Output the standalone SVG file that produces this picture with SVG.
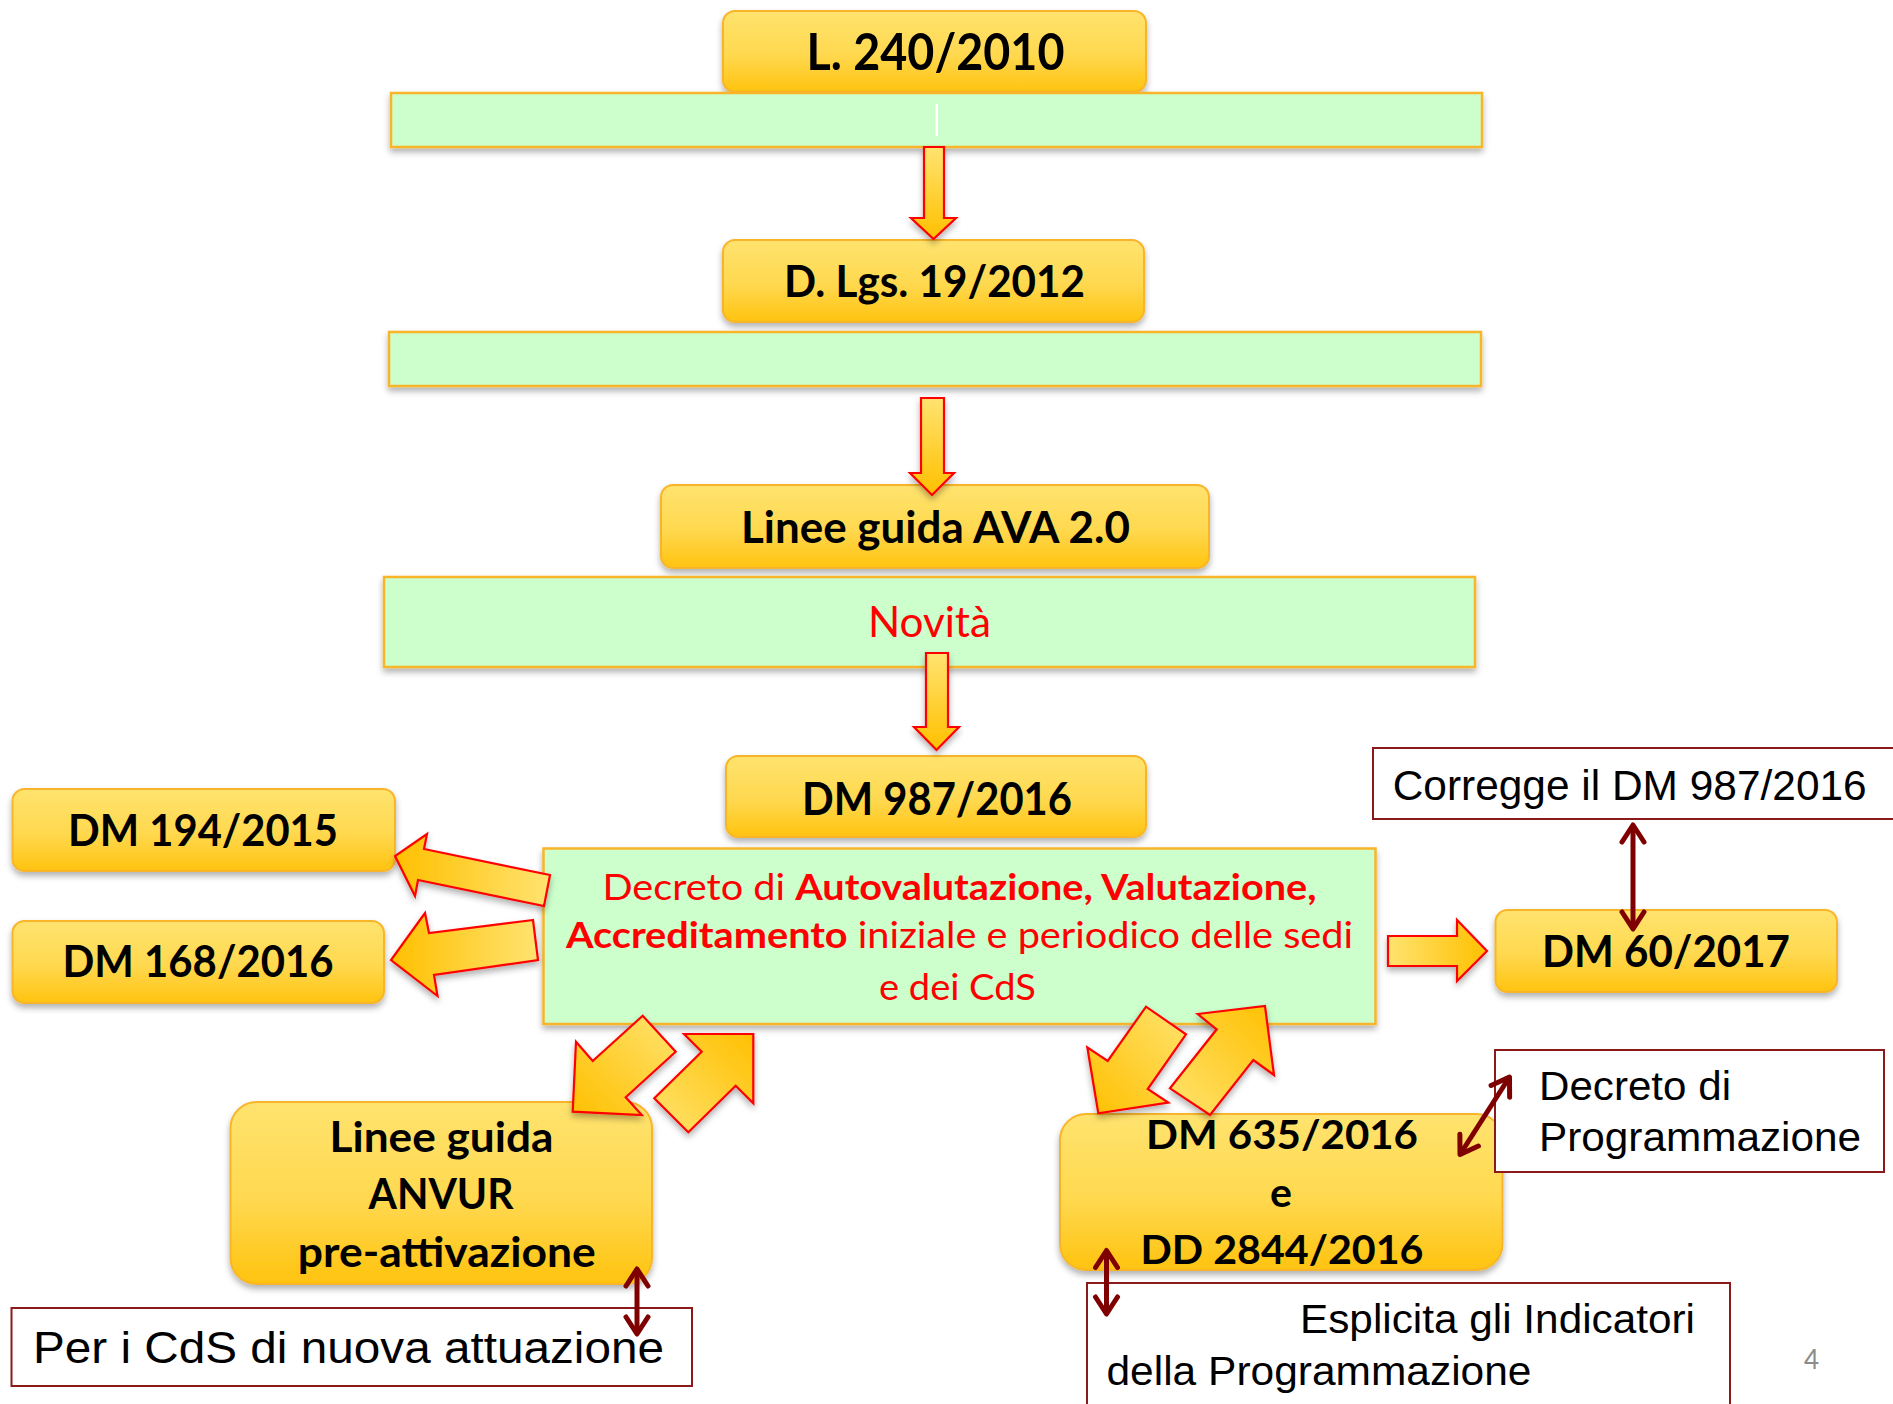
<svg xmlns="http://www.w3.org/2000/svg" width="1893" height="1404" viewBox="0 0 1893 1404">
<defs>
<linearGradient id="gBox" x1="0" y1="0" x2="0" y2="1">
<stop offset="0" stop-color="#FFE36F"/><stop offset="0.55" stop-color="#FFD84E"/><stop offset="1" stop-color="#FFC30F"/>
</linearGradient>
<linearGradient id="gDown" x1="0" y1="0" x2="0" y2="1"><stop offset="0" stop-color="#FFE370"/><stop offset="1" stop-color="#FFC000"/></linearGradient>
<linearGradient id="gLeft" x1="1" y1="0" x2="0" y2="0"><stop offset="0" stop-color="#FFE370"/><stop offset="1" stop-color="#FFC000"/></linearGradient>
<linearGradient id="gRight" x1="0" y1="0" x2="1" y2="0"><stop offset="0" stop-color="#FFE370"/><stop offset="1" stop-color="#FFC000"/></linearGradient>
<linearGradient id="gDL" x1="1" y1="0" x2="0" y2="1"><stop offset="0" stop-color="#FFE370"/><stop offset="1" stop-color="#FFC000"/></linearGradient>
<linearGradient id="gUR" x1="0" y1="1" x2="1" y2="0"><stop offset="0" stop-color="#FFE370"/><stop offset="1" stop-color="#FFC000"/></linearGradient>
<filter id="sh" x="-10%" y="-20%" width="120%" height="150%">
<feDropShadow dx="0" dy="4" stdDeviation="3" flood-color="#000" flood-opacity="0.3"/>
</filter>
<marker id="dh" viewBox="-22 -14 28 28" refX="0" refY="0" markerWidth="28" markerHeight="28" markerUnits="userSpaceOnUse" orient="auto-start-reverse" overflow="visible">
<path d="M-17,-11 L0,0 L-17,11" fill="none" stroke="#7F0000" stroke-width="5" stroke-linecap="round" stroke-linejoin="round"/>
</marker>
</defs>
<style>
.box{stroke:#F8B52A;stroke-width:2;filter:url(#sh);fill:url(#gBox)}
.band{fill:#CCFFCC;stroke:#F8B52A;stroke-width:2.5;filter:url(#sh)}
.note{fill:#FFFFFF;stroke:#8B1A1A;stroke-width:2}
.arr{stroke:#FF0000;stroke-width:2.2;stroke-linejoin:miter;filter:url(#sh)}
.t{font-family:Lato,"Liberation Sans",sans-serif;font-weight:bold;fill:#000;text-anchor:middle}
.r{font-family:Lato,"Liberation Sans",sans-serif;fill:#FF0000}
.a{font-family:"Liberation Sans",Arial,sans-serif;fill:#000}
.dbl{stroke:#7F0000;stroke-width:5;fill:none;marker-start:url(#dh);marker-end:url(#dh)}
</style>

<g id="n-l240">
<rect class="box" x="723" y="11" width="423" height="81" rx="12"/>
<text class="t" x="935.5" y="70" font-size="51" textLength="258" lengthAdjust="spacingAndGlyphs">L. 240/2010</text>
</g>
<g id="band1">
<rect class="band" x="391" y="93" width="1091" height="54"/>
<rect x="935.5" y="104" width="2.5" height="32" fill="#FFFFFF"/>
</g>
<g id="n-dlgs">
<rect class="box" x="723" y="240" width="421" height="82" rx="12"/>
<text class="t" x="934.5" y="297" font-size="44" textLength="301" lengthAdjust="spacingAndGlyphs">D. Lgs. 19/2012</text>
</g>
<g id="band2">
<rect class="band" x="389" y="332" width="1092" height="54"/>
</g>
<g id="n-ava">
<rect class="box" x="661" y="485" width="548" height="83" rx="12"/>
<text class="t" x="935.5" y="543" font-size="44" textLength="389" lengthAdjust="spacingAndGlyphs">Linee guida AVA 2.0</text>
</g>
<g id="band3">
<rect class="band" x="384" y="577" width="1091" height="90"/>
<text class="r" x="929.5" y="637" font-size="42" text-anchor="middle" textLength="123" lengthAdjust="spacingAndGlyphs">Novità</text>
</g>
<g id="n-dm987">
<rect class="box" x="726" y="756" width="420" height="81" rx="12"/>
<text class="t" x="937" y="815" font-size="45" textLength="270" lengthAdjust="spacingAndGlyphs">DM 987/2016</text>
</g>
<g id="n-dm194">
<rect class="box" x="12.5" y="789" width="382.5" height="82" rx="12"/>
<text class="t" x="203" y="846" font-size="44" textLength="270" lengthAdjust="spacingAndGlyphs">DM 194/2015</text>
</g>
<g id="n-dm168">
<rect class="box" x="12.5" y="921" width="371.5" height="82" rx="12"/>
<text class="t" x="198" y="977" font-size="44" textLength="271" lengthAdjust="spacingAndGlyphs">DM 168/2016</text>
</g>
<g id="n-decreto">
<rect class="band" x="543.5" y="848.5" width="832" height="175.5"/>
<text class="r" x="602.5" y="900" font-size="37" textLength="714" lengthAdjust="spacingAndGlyphs">Decreto di <tspan font-weight="bold">Autovalutazione, Valutazione,</tspan></text>
<text class="r" x="566" y="948" font-size="37" textLength="787" lengthAdjust="spacingAndGlyphs"><tspan font-weight="bold">Accreditamento</tspan> iniziale e periodico delle sedi</text>
<text class="r" x="879" y="1000" font-size="37" textLength="157" lengthAdjust="spacingAndGlyphs">e dei CdS</text>
</g>
<g id="n-dm60">
<rect class="box" x="1495.5" y="910" width="341.5" height="82" rx="12"/>
<text class="t" x="1666" y="967" font-size="44" textLength="248" lengthAdjust="spacingAndGlyphs">DM 60/2017</text>
</g>
<g id="n-corregge">
<rect class="note" x="1373" y="748" width="522" height="71"/>
<text class="a" x="1392.7" y="800" font-size="43" textLength="474" lengthAdjust="spacingAndGlyphs">Corregge il DM 987/2016</text>
</g>
<g id="n-anvur">
<rect class="box" x="230.5" y="1102" width="421.5" height="182" rx="26"/>
<text class="t" x="441.5" y="1152" font-size="42" textLength="224" lengthAdjust="spacingAndGlyphs">Linee guida</text>
<text class="t" x="441" y="1209" font-size="42" textLength="145" lengthAdjust="spacingAndGlyphs">ANVUR</text>
<text class="t" x="446.8" y="1267" font-size="42" textLength="298" lengthAdjust="spacingAndGlyphs">pre-attivazione</text>
</g>
<g id="n-percds">
<rect class="note" x="11.5" y="1308" width="680.5" height="78"/>
<text class="a" x="33" y="1363" font-size="45" textLength="631" lengthAdjust="spacingAndGlyphs">Per i CdS di nuova attuazione</text>
</g>
<g id="n-dm635">
<rect class="box" x="1060" y="1114" width="442.5" height="156" rx="26"/>
<text class="t" x="1282" y="1149" font-size="41" textLength="272" lengthAdjust="spacingAndGlyphs">DM 635/2016</text>
<text class="t" x="1281" y="1207" font-size="41">e</text>
<text class="t" x="1282" y="1264" font-size="41" textLength="283" lengthAdjust="spacingAndGlyphs">DD 2844/2016</text>
</g>
<g id="n-programmazione">
<rect class="note" x="1495" y="1050" width="389" height="122"/>
<text class="a" x="1539" y="1100" font-size="40" textLength="192" lengthAdjust="spacingAndGlyphs">Decreto di</text>
<text class="a" x="1539" y="1151" font-size="40" textLength="322" lengthAdjust="spacingAndGlyphs">Programmazione</text>
</g>
<g id="n-esplicita">
<rect class="note" x="1087" y="1283" width="643" height="140"/>
<text class="a" x="1300" y="1333" font-size="40" textLength="395" lengthAdjust="spacingAndGlyphs">Esplicita gli Indicatori</text>
<text class="a" x="1106.5" y="1385" font-size="40" textLength="425" lengthAdjust="spacingAndGlyphs">della Programmazione</text>
</g>
<g id="connectors">
<polygon class="arr" fill="url(#gDown)" points="924,147 944,147 944,218 956,218 933.5,239 911,218 924,218"/>
<polygon class="arr" fill="url(#gDown)" points="921,398 944,398 944,473 954,473 932,495 910,473 921,473"/>
<polygon class="arr" fill="url(#gDown)" points="926,653 948,653 948,727 959,727 936.5,750 914,727 926,727"/>
<polygon class="arr" fill="url(#gLeft)" points="550,875 424,849 427,834 395,856 415,896 418,880 544,906"/>
<polygon class="arr" fill="url(#gLeft)" points="533,920 429,933 425,913 391,960 437.5,996 434,975 538,960"/>
<polygon class="arr" fill="url(#gRight)" points="1388,936 1457,936 1457,920 1487,951 1457,981 1457,966 1388,966"/>
<polygon class="arr" fill="url(#gDL)" points="576,1041.7 592.7,1061 642.7,1015.7 675.7,1051.7 625.7,1097.3 641.7,1115 572.7,1111.7"/>
<polygon class="arr" fill="url(#gUR)" points="684,1034 753.3,1034 753.3,1103.3 735.7,1085.7 688.3,1132.3 654.3,1098.3 701.7,1051.7"/>
<polygon class="arr" fill="url(#gDL)" points="1087.3,1047.3 1107.7,1061 1146,1006.7 1186,1034.3 1147.7,1089 1168.3,1102.7 1098.3,1113.3"/>
<polygon class="arr" fill="url(#gUR)" points="1197.7,1014 1265,1006 1274,1075 1253.3,1060 1210,1115 1170,1088.3 1216.7,1029.3"/>
<line class="dbl" x1="1633" y1="825" x2="1633" y2="929"/>
<line class="dbl" x1="637" y1="1269" x2="637" y2="1334"/>
<line class="dbl" x1="1509.5" y1="1077" x2="1460" y2="1154.5"/>
<line class="dbl" x1="1106.5" y1="1250.5" x2="1106.5" y2="1314"/>
</g>
<text x="1811.5" y="1369" font-family="Lato,'Liberation Sans',sans-serif" font-size="26" fill="#8C8C8C" text-anchor="middle">4</text>
</svg>
